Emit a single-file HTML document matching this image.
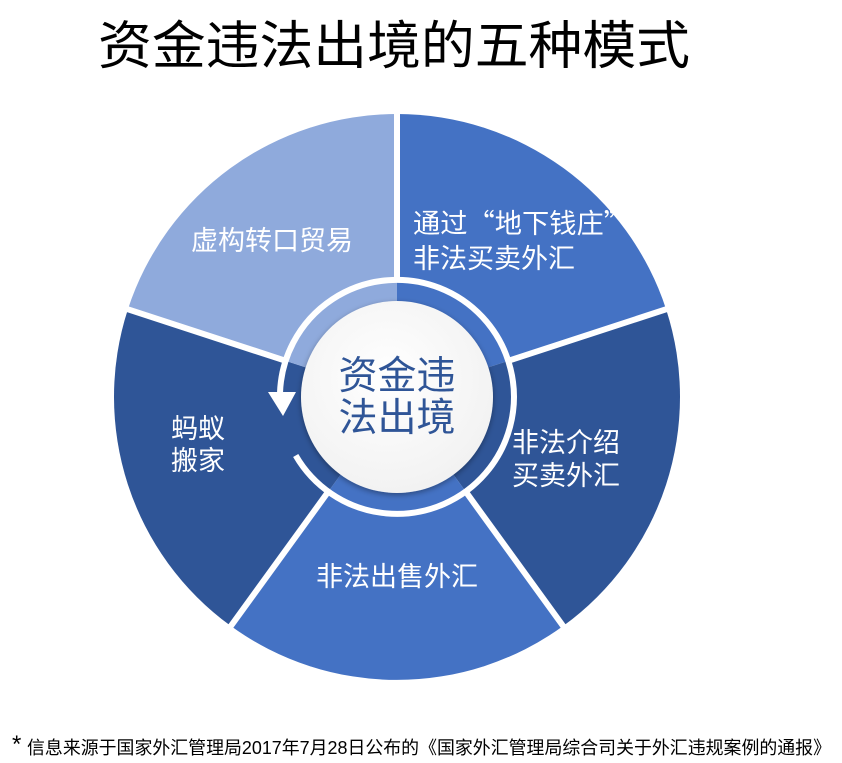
<!DOCTYPE html>
<html><head><meta charset="utf-8"><style>
html,body{margin:0;padding:0;background:#fff;}
svg{display:block;}
text{font-family:"Liberation Sans","Noto Sans CJK SC",sans-serif;}
</style></head><body>
<svg width="842" height="763" viewBox="0 0 842 763" xmlns="http://www.w3.org/2000/svg">
<defs>
<radialGradient id="cg" cx="0.45" cy="0.4" r="0.6">
<stop offset="0" stop-color="#ffffff"/><stop offset="1" stop-color="#f2f2f2"/>
</radialGradient>
<filter id="sh" x="-20%" y="-20%" width="140%" height="140%"><feDropShadow dx="0" dy="2" stdDeviation="3" flood-color="#000" flood-opacity="0.35"/></filter>
</defs>
<text x="394" y="64" font-size="52" fill="#000" text-anchor="middle" textLength="592" lengthAdjust="spacingAndGlyphs">资金违法出境的五种模式</text>

<path d="M397 397 L397 114 A283 283 0 0 1 666.2 309.6 Z" fill="#4472c4"/>
<path d="M397 397 L666.2 309.6 A283 283 0 0 1 563.3 625.9 Z" fill="#2f5597"/>
<path d="M397 397 L563.3 625.9 A283 283 0 0 1 230.7 625.9 Z" fill="#4472c4"/>
<path d="M397 397 L230.7 625.9 A283 283 0 0 1 127.8 309.6 Z" fill="#2f5597"/>
<path d="M397 397 L127.8 309.6 A283 283 0 0 1 397 114 Z" fill="#8faadc"/>

<g stroke="#fff" stroke-width="6">
<line x1="397" y1="278" x2="397" y2="110"/>
<line x1="510.2" y1="360.2" x2="670" y2="308"/>
<line x1="466.9" y1="493.3" x2="566" y2="630"/>
<line x1="327.1" y1="493.3" x2="228" y2="630"/>
<line x1="283.8" y1="360.2" x2="124" y2="308"/>
</g>

<path d="M295.7 455.5 A117 117 0 1 0 280 393" fill="none" stroke="#fff" stroke-width="6"/>
<polygon points="268,392 296,392 283,416" fill="#fff"/>

<circle cx="397" cy="397" r="96" fill="url(#cg)" filter="url(#sh)"/>
<g fill="#2f5597" font-size="39" text-anchor="middle">
<text x="397" y="389">资金违</text>
<text x="397" y="431">法出境</text>
</g>

<g fill="#fff" font-size="27">
<text x="272" y="250" text-anchor="middle">虚构转口贸易</text>
<text x="413" y="233" style="font-family:'Noto Sans CJK SC',sans-serif" textLength="218" lengthAdjust="spacingAndGlyphs">通过“地下钱庄”</text>
<text x="413" y="268">非法买卖外汇</text>
<text x="512" y="452">非法介绍</text>
<text x="512" y="485">买卖外汇</text>
<text x="397" y="586" text-anchor="middle">非法出售外汇</text>
<text x="171" y="438">蚂蚁</text>
<text x="171" y="470">搬家</text>
</g>

<text x="12" y="752" font-size="24" fill="#000">*</text>
<text x="27" y="754" font-size="18" fill="#000" textLength="804" lengthAdjust="spacingAndGlyphs">信息来源于国家外汇管理局2017年7月28日公布的《国家外汇管理局综合司关于外汇违规案例的通报》</text>
</svg>
</body></html>
